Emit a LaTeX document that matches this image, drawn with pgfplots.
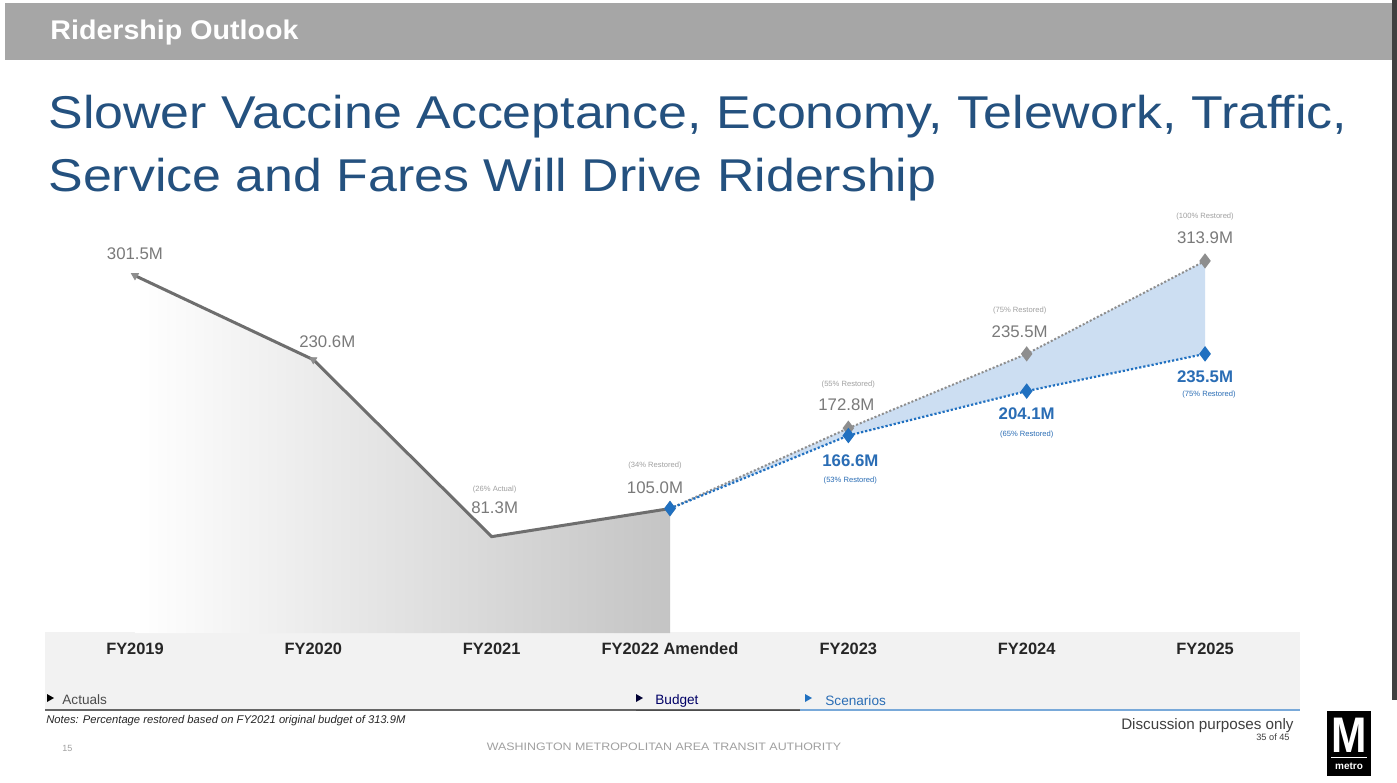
\documentclass[border=0pt]{standalone}
\usepackage{pgfplots}
\pgfplotsset{compat=1.18}
\usepackage{fontspec}
\setmainfont{Liberation Sans}
\definecolor{hdr}{HTML}{A6A6A6}
\definecolor{ttl}{HTML}{24517F}
\definecolor{blu}{HTML}{2070C0}
\definecolor{blutxt}{HTML}{2A6DB5}
\definecolor{fillb}{HTML}{CCDEF2}
\definecolor{gmk}{HTML}{8E8E8E}
\definecolor{gline}{HTML}{6E6E6E}
\definecolor{gtxt}{HTML}{7A7A7A}
\definecolor{ltxt}{HTML}{A0A0A0}
\definecolor{band}{HTML}{F2F2F2}
\begin{document}
\begin{tikzpicture}
\begin{scope}[x=0.5pt,y=-0.5pt]
\useasboundingbox (0,0) rectangle (1397,782);
\fill[white] (0,0) rectangle (1397,782);
% header
\fill[hdr] (5,3) rectangle (1393,60);
\fill[black!75] (1392,0) rectangle (1397,700);
\node[anchor=west,text=white,font=\bfseries\fontsize{13.5pt}{15pt}\selectfont,inner sep=0pt] at (50,33) {\scalebox{1.06}[1]{Ridership Outlook}};
% title
\node[anchor=north west,text=ttl,align=left,inner sep=0pt,font=\fontsize{23pt}{31.5pt}\selectfont] at (48,95) {\scalebox{1.128}[1]{Slower Vaccine Acceptance, Economy, Telework, Traffic,}\\\scalebox{1.128}[1]{Service and Fares Will Drive Ridership}};
% band
\fill[band] (45,632) rectangle (1300,710);
\draw[gray!80!black,line width=0.8pt] (45,710) -- (800,710);
\draw[black!70,line width=0.8pt] (636,710.5) -- (800,710.5);
\draw[blu!60,line width=0.8pt] (800,710) -- (1300,710);
\fill[black] (47,694) -- (54,698) -- (47,702) -- cycle;
\node[anchor=west,inner sep=0pt,text=black!70,font=\fontsize{6.8pt}{7pt}\selectfont] at (62,700) {Actuals};
\fill[black!80!blue] (636,694) -- (643,698) -- (636,702) -- cycle;
\node[anchor=west,inner sep=0pt,text=black!60!blue,font=\fontsize{6.8pt}{7pt}\selectfont] at (655,701) {Budget};
\fill[blu] (805,694) -- (812,698) -- (805,702) -- cycle;
\node[anchor=west,inner sep=0pt,text=blutxt,font=\fontsize{6.8pt}{7pt}\selectfont] at (825,701) {Scenarios};
% footer
\node[anchor=west,inner sep=0pt,text=black!85,font=\itshape\fontsize{5.6pt}{6pt}\selectfont] at (46,721) {Notes: Percentage restored based on FY2021 original budget of 313.9M};
\node[anchor=west,inner sep=0pt,text=ltxt,font=\fontsize{4.5pt}{5pt}\selectfont] at (62,748) {15};
\node[inner sep=0pt,text=ltxt,font=\fontsize{5.4pt}{6pt}\selectfont] at (664,747) {\scalebox{1.15}[1]{WASHINGTON METROPOLITAN AREA TRANSIT AUTHORITY}};
\node[anchor=east,inner sep=0pt,text=black!75,font=\fontsize{7.6pt}{8pt}\selectfont] at (1294,726) {Discussion purposes only};
\node[anchor=east,inner sep=0pt,text=black!75,font=\fontsize{4.6pt}{5pt}\selectfont] at (1290,737) {35 of 45};
% logo
\fill[black] (1327,711) rectangle (1371,776);
\node[text=white,inner sep=0pt,font=\bfseries\fontsize{25pt}{25pt}\selectfont] at (1349,735) {\scalebox{0.85}[1]{M}};
\draw[white,line width=0.4pt] (1331,757) -- (1367,757);
\node[text=white,inner sep=0pt,font=\bfseries\fontsize{5pt}{5pt}\selectfont] at (1349,766) {metro};
\end{scope}
\begin{axis}[
  at={(22.9pt,-316.5pt)}, anchor=south west,
  scale only axis, width=624.2pt, height=201.5pt,
  xmin=-0.5, xmax=6.5, ymin=0, ymax=340,
  axis line style={draw=none}, major tick style={draw=none},
  ytick=\empty, xtick={0,...,6},
  xticklabels={FY2019,FY2020,FY2021,FY2022 Amended,FY2023,FY2024,FY2025},
  xticklabel style={font=\bfseries\fontsize{8.2pt}{9pt}\selectfont, text=black!85, yshift=-1.5pt},
  clip=false,
]
% actuals gradient area
\addplot[draw=none, left color=white, right color=black!23] coordinates {(0,301.5)(1,230.6)(2,81.3)(3,105.0)} \closedcycle;
% scenario range fill
\addplot[draw=none, fill=fillb] coordinates {(3,105.0)(4,172.8)(5,235.5)(6,313.9)(6,235.5)(5,204.1)(4,166.6)(3,105.0)} -- cycle;
% actuals line
\addplot[gline, line width=1.5pt, mark=none] coordinates {(0,301.5)(1,230.6)(2,81.3)(3,105.0)};
\addplot[gmk, only marks, mark=triangle*, mark size=2pt, mark options={rotate=60}] coordinates {(0,301.5)(1,230.6)};
% upper scenario
\addplot[gmk, line width=1pt, densely dotted, mark=diamond*, mark size=3pt, mark options={solid}] coordinates {(3,105.0)(4,172.8)(5,235.5)(6,313.9)};
% lower scenario (budget)
\addplot[blu, line width=1.1pt, densely dotted, mark=diamond*, mark size=3pt, mark options={solid}] coordinates {(3,105.0)(4,166.6)(5,204.1)(6,235.5)};
% labels gray
\node[text=gtxt,font=\fontsize{8.4pt}{9pt}\selectfont] at (axis cs:0,301.5) [yshift=11pt] {301.5M};
\node[text=gtxt,font=\fontsize{8.4pt}{9pt}\selectfont] at (axis cs:1,230.6) [yshift=9pt,xshift=7pt] {230.6M};
\node[text=ltxt,font=\fontsize{3.8pt}{4pt}\selectfont] at (axis cs:2,81.3) [yshift=23.5pt,xshift=1.5pt] {(26\% Actual)};
\node[text=gtxt,font=\fontsize{8.4pt}{9pt}\selectfont] at (axis cs:2,81.3) [yshift=14.5pt,xshift=1.5pt] {81.3M};
\node[text=ltxt,font=\fontsize{3.8pt}{4pt}\selectfont] at (axis cs:3,105.0) [yshift=21.5pt,xshift=-7.5pt] {(34\% Restored)};
\node[text=gtxt,font=\fontsize{8.4pt}{9pt}\selectfont] at (axis cs:3,105.0) [yshift=10.5pt,xshift=-7.5pt] {105.0M};
\node[text=ltxt,font=\fontsize{3.8pt}{4pt}\selectfont] at (axis cs:4,172.8) [yshift=22pt,xshift=0pt] {(55\% Restored)};
\node[text=gtxt,font=\fontsize{8.4pt}{9pt}\selectfont] at (axis cs:4,172.8) [yshift=11.5pt,xshift=-1pt] {172.8M};
\node[text=ltxt,font=\fontsize{3.8pt}{4pt}\selectfont] at (axis cs:5,235.5) [yshift=21.5pt,xshift=-3.5pt] {(75\% Restored)};
\node[text=gtxt,font=\fontsize{8.4pt}{9pt}\selectfont] at (axis cs:5,235.5) [yshift=11pt,xshift=-3.5pt] {235.5M};
\node[text=ltxt,font=\fontsize{3.8pt}{4pt}\selectfont] at (axis cs:6,313.9) [yshift=22pt] {(100\% Restored)};
\node[text=gtxt,font=\fontsize{8.4pt}{9pt}\selectfont] at (axis cs:6,313.9) [yshift=11.5pt] {313.9M};
% labels blue
\node[text=blutxt,font=\bfseries\fontsize{8.4pt}{9pt}\selectfont] at (axis cs:4,166.6) [yshift=-12.5pt,xshift=1pt] {166.6M};
\node[text=blutxt,font=\fontsize{3.8pt}{4pt}\selectfont] at (axis cs:4,166.6) [yshift=-22.5pt,xshift=1pt] {(53\% Restored)};
\node[text=blutxt,font=\bfseries\fontsize{8.4pt}{9pt}\selectfont] at (axis cs:5,204.1) [yshift=-11.5pt] {204.1M};
\node[text=blutxt,font=\fontsize{3.8pt}{4pt}\selectfont] at (axis cs:5,204.1) [yshift=-21.5pt] {(65\% Restored)};
\node[text=blutxt,font=\bfseries\fontsize{8.4pt}{9pt}\selectfont] at (axis cs:6,235.5) [yshift=-11.5pt] {235.5M};
\node[text=blutxt,font=\fontsize{3.8pt}{4pt}\selectfont] at (axis cs:6,235.5) [yshift=-20.5pt,xshift=2pt] {(75\% Restored)};
\end{axis}
\end{tikzpicture}
\end{document}
